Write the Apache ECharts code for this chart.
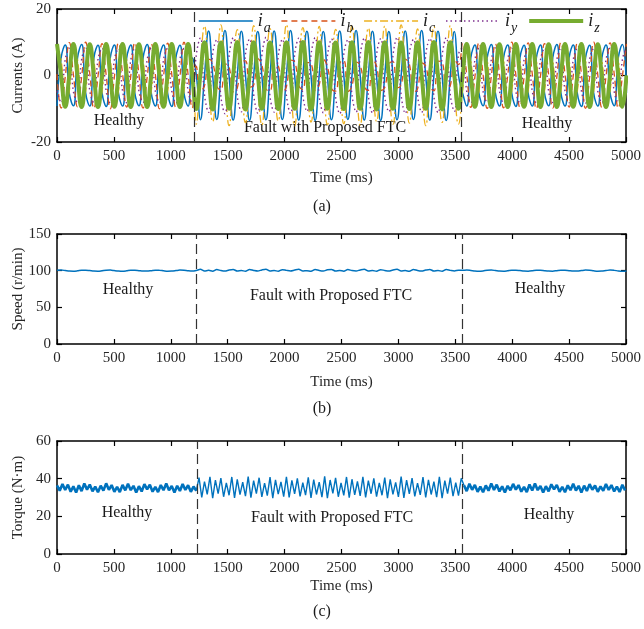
<!DOCTYPE html>
<html>
<head>
<meta charset="utf-8">
<script src="https://cdn.jsdelivr.net/npm/echarts@6/dist/echarts.min.js"></script>
<style>html,body{margin:0;padding:0;background:#fff}#c{width:644px;height:629px}</style>
</head>
<body>
<div id="c"></div>
<script>
// ---- data ----
const currentStep = 36;   // ms between current samples
const speedStep = 36;     // ms between speed samples
const torqueStep = 24;    // ms between torque samples
const timeTicks = [0,500,1000,1500,2000,2500,3000,3500,4000,4500,5000];
const faultStartA = 1205, faultEndA = 3556;
const faultStartB = 1220, faultEndB = 3560;
const faultStartC = 1232, faultEndC = 3562;

const ia = [
-9.2,5.3,9.2,-5.3,-9.1,5.2,9.3,-5.3,-9.2,5.3,9.1,-5.2,-9.3,5.3,9.2,-5.3,-9.2,5.2,9.2,-5.3,-9.1,5.3,9.3,-5.2,-9.2,5.3,9.2,-5.3,-9.3,5.2,9.1,-5.3,-9.2,5.3,
0.2,-13.3,-0.1,13.4,0,-13.2,0.2,13.5,-0.1,-13.4,0,13.3,0.1,-13.5,-0.2,13.2,0,-13.3,0.1,13.4,-0.1,-13.2,0,13.5,0.2,-13.4,-0.1,13.3,0,-13.5,0.1,13.2,-0.2,-13.3,0,13.4,0.1,-13.2,-0.1,13.5,0,-13.4,0.2,13.3,-0.1,-13.5,0,13.2,0.1,-13.3,-0.2,13.4,0,-13.2,0.1,13.5,-0.1,-13.4,0,13.3,0.2,-13.5,-0.1,13.2,0,
-5.3,-9.2,5.3,9.2,-5.3,-9.1,5.2,9.3,-5.2,-9.2,5.3,9.2,-5.3,-9.3,5.3,9.1,-5.3,-9.2,5.2,9.2,-5.3,-9.1,5.3,9.3,-5.2,-9.2,5.3,9.2,-5.3,-9.3,5.2,9.1,-5.3,-9.2,5.3,9.2,-5.2,-9.1,5.3,9.3,-5.3
];
const ib = [
0.4,-9.8,-0.5,9.9,0.3,-9.4,-0.6,10,0.5,-9.9,-0.3,9.6,0.2,-10,-0.5,9.8,0.6,-9.5,-0.2,9.9,0.3,-9.8,-0.6,9.5,0.4,-10,-0.3,9.7,0.5,-9.6,-0.4,10,0.3,-9.8,
2.8,-4.6,-3.1,4.9,3.9,-3.2,-4.4,3.5,2.6,-4.9,-3.8,4.2,4.4,-3.5,-2.9,5.1,3.2,-4.1,-4.6,3.3,2.9,-5.0,-3.4,4.6,4.1,-3.0,-4.2,3.9,3.6,-4.4,-2.8,5.0,2.7,-3.9,-4.7,3.6,4.5,-4.8,-3.2,4.0,3.1,-3.3,-4.5,4.8,2.9,-4.5,-3.6,3.4,4.2,-3.7,-2.9,4.9,3.5,-4.9,-4.1,3.8,2.8,-3.4,-4.6,4.3,4.0,-4.2,-3.0,4.7,3.3,
9.7,0.4,-9.6,-0.5,9.9,0.3,-9.9,-0.4,9.5,0.5,-9.7,-0.2,10,0.2,-9.5,-0.6,9.8,0.6,-10,-0.3,9.6,0.3,-9.8,-0.5,9.9,0.4,-9.5,-0.2,9.7,0.5,-9.9,-0.6,10,0.2,-9.6,-0.4,9.8,0.6,-9.8,-0.3,9.5
];
const ic = [
8.2,4.7,-8.2,-4.7,8.1,4.8,-8.3,-4.7,8.2,4.6,-8.2,-4.8,8.3,4.7,-8.1,-4.7,8.2,4.8,-8.2,-4.6,8.1,4.7,-8.3,-4.7,8.2,4.7,-8.2,-4.8,8.3,4.6,-8.1,-4.7,8.2,4.7,
-14.6,2.5,14.9,-0.8,-13.9,1.2,15.2,-2.4,-15.1,3.0,13.8,-1.1,-14.2,0.9,15.0,-2.8,-14.9,2.2,14.1,-0.6,-13.7,1.6,15.3,-2.0,-15.2,2.9,14.4,-1.3,-14.0,0.7,14.8,-2.6,-14.8,2.4,13.9,-0.9,-14.5,1.1,15.1,-2.2,-15.0,3.1,14.3,-1.6,-13.8,1.4,14.9,-2.9,-14.7,2.0,15.2,-0.7,-14.3,1.3,14.0,-2.3,-15.1,2.7,14.7,-1.0,-14.1,0.8,15.0,-2.5,-14.6,
-4.7,8.2,4.7,-8.2,-4.7,8.1,4.8,-8.3,-4.7,8.2,4.6,-8.2,-4.8,8.3,4.7,-8.1,-4.7,8.2,4.8,-8.2,-4.6,8.1,4.7,-8.3,-4.7,8.2,4.7,-8.2,-4.8,8.3,4.6,-8.1,-4.7,8.2,4.7,-8.2,-4.7,8.1,4.8,-8.3,-4.7
];
const iy = [
-4.7,-8.2,4.7,8.2,-4.8,-8.1,4.7,8.3,-4.6,-8.2,4.8,8.2,-4.7,-8.3,4.7,8.1,-4.7,-8.2,4.6,8.2,-4.8,-8.1,4.7,8.3,-4.7,-8.2,4.7,8.2,-4.6,-8.3,4.8,8.1,-4.7,-8.2,
6.2,11.3,-5.8,-11.1,6.5,10.8,-6.3,-11.5,5.9,11.4,-6.1,-10.9,6.4,11.0,-5.7,-11.3,6.0,11.5,-6.4,-11.0,5.8,10.9,-6.0,-11.4,6.3,11.2,-5.9,-10.8,6.1,11.4,-6.2,-11.2,5.7,11.0,-6.5,-11.5,6.4,10.8,-5.8,-11.0,6.0,11.3,-6.1,-11.3,6.2,11.1,-6.3,-10.9,5.9,11.5,-5.9,-11.4,6.5,10.9,-6.0,-11.1,6.1,11.2,-6.4,-11.2,5.8,11.4,-5.7,-10.8,6.3,
8.2,-4.7,-8.2,4.7,8.2,-4.8,-8.1,4.7,8.3,-4.6,-8.2,4.8,8.2,-4.7,-8.3,4.7,8.1,-4.7,-8.2,4.6,8.2,-4.8,-8.1,4.7,8.3,-4.7,-8.2,4.7,8.2,-4.6,-8.3,4.8,8.1,-4.7,-8.2,4.7,8.2,-4.8,-8.1,4.7,8.3
];
const iz = [
9.5,0.1,-9.4,0,9.5,-0.1,-9.5,0.1,9.4,0,-9.5,0,9.5,0.1,-9.4,-0.1,9.5,0,-9.5,0,9.4,0.1,-9.5,0,9.5,0,-9.4,0.1,9.5,-0.1,-9.5,0,9.5,0,
-10.1,0.2,10,-0.1,-10.2,0,9.9,0.1,-10,0.1,10.1,0,-10.2,-0.1,10,0.2,-10,0,9.9,0,-10.1,0.1,10,-0.1,-10,0,10.1,0.1,-10.2,0,10,0,-10,0.1,9.9,-0.1,-10.1,0,10,0.1,-10,0,10.1,0,-10.2,0.1,10,0,-10,-0.1,9.9,0.1,-10.1,0,10,0,-10,0.1,10.1,0,-10.2,0,10,-0.1,-10,
0,9.5,0.1,-9.4,0,9.5,0,-9.5,0.1,9.4,0,-9.5,0,9.5,-0.1,-9.4,0,9.5,0,-9.5,0.1,9.4,0,-9.5,0,9.5,0.1,-9.4,0,9.5,0,-9.5,0,9.4,-0.1,-9.5,0,9.5,0,-9.4,0
];
const speed = [
100.5,100.8,100.2,99.5,99.3,99.8,100.6,100.7,100.1,99.4,99.3,99.9,100.6,100.8,100.1,99.5,99.2,99.8,100.7,100.6,100.0,99.4,99.4,100.0,100.7,100.6,99.9,99.3,99.5,100.1,100.8,100.5,99.8,99.4,
100.2,101.8,99.6,100.4,99.3,101.5,100.1,99.4,100.9,101.7,99.5,100.2,99.2,101.6,100.3,99.5,101.0,101.9,99.4,100.1,99.3,101.4,100.4,99.6,100.8,101.8,99.5,100.0,99.2,101.6,100.2,99.5,101.1,101.7,99.4,100.3,99.3,101.5,100.1,99.6,100.9,101.9,99.5,100.2,99.2,101.4,100.3,99.4,101.0,101.8,99.6,100.1,99.3,101.6,100.2,99.5,100.8,101.7,99.4,100.3,99.2,101.5,100.4,99.6,100.6,
100.4,100.8,100.3,99.6,99.3,99.7,100.5,100.8,100.2,99.5,99.3,99.9,100.6,100.7,100.1,99.4,99.3,99.8,100.7,100.6,100.0,99.5,99.3,100.0,100.7,100.5,99.9,99.4,99.4,100.1,100.8,100.5,99.8,99.3,99.5,100.2,100.8,100.4,99.7,99.3,99.6
];
const torque = [
36.4,33.6,37.2,34.0,36.8,33.1,35.9,32.7,36.5,33.4,37.4,34.2,36.9,33.3,35.8,32.8,36.3,33.7,37.5,34.1,36.6,33.0,35.7,32.9,
36.7,33.8,37.3,33.9,36.2,32.6,36.0,33.2,37.1,34.3,36.8,33.1,35.6,32.9,36.6,33.9,37.4,33.8,36.1,32.7,36.2,33.5,37.2,34.0,36.5,33.0,35.8,33.6,
40.6,30.1,38.4,31.7,41.0,29.6,39.2,32.0,40.3,30.4,37.8,31.2,40.9,29.8,39.6,31.5,38.1,30.7,41.1,29.9,39.0,32.1,40.5,30.3,
37.6,31.0,40.8,29.7,39.4,31.8,38.3,30.5,41.0,30.0,39.1,31.9,40.2,30.6,37.9,31.3,40.7,29.8,39.5,31.6,38.2,30.2,41.2,29.6,
39.3,32.2,40.4,30.4,37.7,31.1,40.9,29.9,39.7,31.4,38.5,30.8,41.0,30.1,38.9,32.0,40.1,30.5,37.8,31.2,40.6,29.7,39.6,31.7,
38.0,30.3,41.1,29.8,39.2,31.9,40.3,30.6,37.6,31.4,40.8,30.0,39.4,31.6,38.4,30.2,41.0,29.6,39.0,32.1,40.5,30.7,37.9,31.0,40.2,
36.5,33.4,37.3,34.1,36.7,33.0,35.8,32.8,36.4,33.6,37.5,34.0,36.8,33.2,35.9,32.7,36.2,33.8,37.2,34.2,36.6,33.1,35.6,32.9,
36.9,33.7,37.4,33.9,36.1,32.6,36.0,33.3,37.0,34.3,36.7,33.0,35.7,32.8,36.5,33.9,37.3,33.7,36.2,32.7,36.3,33.5,37.1,34.1,
36.4,33.0,35.9,33.6,37.2,34.0,36.6,33.2,35.8,32.9,36.8,33.8
];
const currentNames = ['ia','ib','ic','iy','iz'];
const currentSubs = {ia:'a', ib:'b', ic:'c', iy:'y', iz:'z'};

// ---- chart ----
const serif = 'Liberation Serif';
const pairs = (arr, step) => arr.map((v, k) => [k * step, v]);
const plain = v => String(v);

function xAxes(gi) {
  return [
    {gridIndex: gi, type:'value', min:0, max:5000, interval:500, position:'bottom',
     name:'Time (ms)', nameLocation:'middle', nameGap: [29,31,25][gi],
     nameTextStyle:{fontFamily:serif, fontSize:15, color:'#262626'},
     axisLine:{show:true, onZero:false, lineStyle:{color:'#000', width:1.5}},
     axisTick:{inside:true, length:5, lineStyle:{color:'#000', width:1.2}},
     axisLabel:{fontFamily:serif, fontSize:15, color:'#262626', margin:7, formatter:plain},
     splitLine:{show:false}},
    {gridIndex: gi, type:'value', min:0, max:5000, interval:500, position:'top',
     axisLine:{show:true, onZero:false, lineStyle:{color:'#000', width:1.5}},
     axisTick:{inside:true, length:5, lineStyle:{color:'#000', width:1.2}},
     axisLabel:{show:false}, splitLine:{show:false}}
  ];
}
function yAxes(gi, min, max, interval, name) {
  return [
    {gridIndex: gi, type:'value', min, max, interval, position:'left',
     name, nameLocation:'middle', nameGap:31, nameMoveOverlap:false,
     nameTextStyle:{fontFamily:serif, fontSize:15, color:'#262626'},
     axisLine:{show:true, onZero:false, lineStyle:{color:'#000', width:1.5}},
     axisTick:{inside:true, length:5, lineStyle:{color:'#000', width:1.2}},
     axisLabel:{fontFamily:serif, fontSize:15, color:'#262626', margin:6, formatter:plain},
     splitLine:{show:false}},
    {gridIndex: gi, type:'value', min, max, interval, position:'right',
     axisLine:{show:true, onZero:false, lineStyle:{color:'#000', width:1.5}},
     axisTick:{inside:true, length:5, lineStyle:{color:'#000', width:1.2}},
     axisLabel:{show:false}, splitLine:{show:false}}
  ];
}
const dashStyle = {color:'#333', type:[10,5], width:1.2};
function faultMarks(a, b) {
  return {symbol:'none', silent:true, label:{show:false}, lineStyle:dashStyle,
          data:[{xAxis:a},{xAxis:b}]};
}

const currentStyles = {
  ia:{color:'#0072BD', width:1.5, type:'solid'},
  ib:{color:'#D95319', width:1.3, type:[6,4]},
  ic:{color:'#EDB120', width:1.3, type:[8,3,2,3]},
  iy:{color:'#7E2F8E', width:1.4, type:[1.5,3]},
  iz:{color:'#77AC30', width:4, type:'solid'}
};
const currentData = {ia, ib, ic, iy, iz};

const series = currentNames.map(n => ({
  name:n, type:'line', xAxisIndex:0, yAxisIndex:0, smooth:0.5,
  symbol:'none', showSymbol:false,
  lineStyle:{color:currentStyles[n].color, width:currentStyles[n].width, type:currentStyles[n].type},
  itemStyle:{color:currentStyles[n].color},
  data:pairs(currentData[n], currentStep),
  markLine: n === 'iz' ? faultMarks(faultStartA, faultEndA) : undefined
}));
series.push({
  name:'speed', type:'line', xAxisIndex:2, yAxisIndex:2, smooth:0.3, symbol:'none',
  lineStyle:{color:'#0072BD', width:1.5}, data:pairs(speed, speedStep),
  markLine: faultMarks(faultStartB, faultEndB)
});
// torque: healthy parts drawn thicker (dense ripple band), fault part thinner
const torquePairs = pairs(torque, torqueStep);
const inFault = t => t >= faultStartC - torqueStep && t <= faultEndC + torqueStep;
series.push({
  name:'torqueHealthy', type:'line', xAxisIndex:4, yAxisIndex:4, symbol:'none', connectNulls:false,
  lineStyle:{color:'#0072BD', width:2.6},
  data: torquePairs.map(p => (p[0] > faultStartC && p[0] < faultEndC) ? [p[0], null] : p),
  markLine: faultMarks(faultStartC, faultEndC)
});
series.push({
  name:'torqueFault', type:'line', xAxisIndex:4, yAxisIndex:4, symbol:'none', connectNulls:false,
  lineStyle:{color:'#0072BD', width:1.4},
  data: torquePairs.map(p => inFault(p[0]) ? p : [p[0], null])
});

function label(text, x, y, size) {
  return {type:'text', x, y, silent:true,
    style:{text, fontFamily:serif, fontSize:size || 16, fill:'#1a1a1a', align:'center', verticalAlign:'middle'}};
}

const gridBase = {left:57, right:18, containLabel:false, outerBoundsMode:'none'};
const option = {
  animation:false,
  backgroundColor:'#fff',
  grid:[
    Object.assign({top:9, height:133}, gridBase),
    Object.assign({top:234, height:110}, gridBase),
    Object.assign({top:441, height:113}, gridBase)
  ],
  xAxis:[...xAxes(0), ...xAxes(1), ...xAxes(2)],
  yAxis:[...yAxes(0,-20,20,20,'Currents (A)'), ...yAxes(1,0,150,50,'Speed (r/min)'), ...yAxes(2,0,60,20,'Torque (N\u00b7m)')],
  legend:{
    data:currentNames.map(n => ({name:n, lineStyle:{width:currentStyles[n].width}})),
    left:198, top:12, padding:0, itemWidth:54, itemHeight:12, itemGap:10,
    selectedMode:false,
    itemStyle:{opacity:0},
    formatter: n => '{i|i}{s|' + currentSubs[n] + '}',
    textStyle:{color:'#1a1a1a', rich:{
      i:{fontFamily:serif, fontStyle:'italic', fontSize:18, color:'#1a1a1a'},
      s:{fontFamily:serif, fontStyle:'italic', fontSize:14, color:'#1a1a1a', padding:[14,0,0,1]}
    }}
  },
  graphic:[
    label('Healthy', 119, 121), label('Fault with Proposed FTC', 325, 128), label('Healthy', 547, 124),
    label('Healthy', 128, 290), label('Fault with Proposed FTC', 331, 296), label('Healthy', 540, 289),
    label('Healthy', 127, 513), label('Fault with Proposed FTC', 332, 518), label('Healthy', 549, 515),
    label('(a)', 322, 207), label('(b)', 322, 409), label('(c)', 322, 612)
  ],
  series
};
const chart = echarts.init(document.getElementById('c'), null, {renderer:'canvas'});
chart.setOption(option);
</script>
</body>
</html>
